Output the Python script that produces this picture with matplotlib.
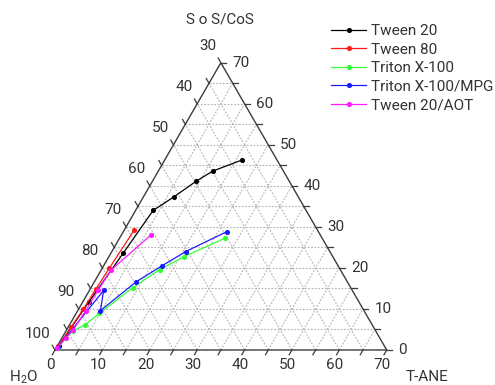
import numpy as np
import matplotlib
matplotlib.use("Agg")
import matplotlib.pyplot as plt

plt.rcParams['font.family'] = ['Roboto', 'DejaVu Sans']
plt.rcParams['mathtext.fontset'] = 'custom'
plt.rcParams['mathtext.rm'] = 'Roboto'

# Phase-boundary compositions (wt%): T-ANE and SoS/CoS, water is the balance
tween20_tane = [16.3, 11.5, 9.2, 6.5, 3.7, 2.6, 1.3, 0.3]
tween20_sos = [46.3, 43.6, 41.1, 37.4, 34.0, 23.6, 11.8, 1.0]

tween80_tane = [2.1, 1.5, 1.2, 1.0, 0.6, 0.2]
tween80_sos = [29.2, 19.9, 14.8, 9.9, 5.6, 1.0]

tritonx100_tane = [22.2, 15.8, 12.3, 8.8, 4.9, 3.3, 1.4, 0.3]
tritonx100_sos = [27.2, 22.7, 19.6, 15.2, 8.9, 6.2, 4.6, 0.6]

tritonmpg_tane = [21.8, 15.6, 12.3, 8.8, 4.8, 3.0, 0.3]
tritonmpg_sos = [28.8, 24.0, 20.5, 16.6, 9.6, 14.5, 0.8]

tween20aot_tane = [6.2, 2.1, 1.8, 1.7, 1.4, 0.8, 0.2]
tween20aot_sos = [28.0, 19.5, 14.6, 9.6, 4.9, 2.9, 0.6]

series_labels = ["Tween 20", "Tween 80", "Triton X-100",
                 "Triton X-100/MPG", "Tween 20/AOT"]
series_colors = ["#000000", "#ff1a1a", "#33ff33", "#1a1aff", "#ff1aff"]

# Axis ranges of the ternary window (H2O 30-100, the others 0-70)
bottom_ticks = list(range(0, 71, 5))
bottom_labels = list(range(0, 71, 10))      # T-ANE
right_labels = list(range(0, 71, 10))       # SoS/CoS
left_labels = list(range(30, 101, 10))      # H2O
SIDE = 70.0
H = np.sqrt(3) / 2


def cart(t, s):
    t = np.asarray(t, dtype=float)
    s = np.asarray(s, dtype=float)
    return t + s / 2.0, s * H


W, HGT = 495, 385
PX = 4.7386  # pixels per composition unit
fig = plt.figure(figsize=(W / 100, HGT / 100), dpi=100)
ax = fig.add_axes([0, 0, 1, 1])
ax.set_xlim(-55 / PX, (W - 55) / PX)
ax.set_ylim(-(HGT - 350) / PX, 350 / PX)
ax.axis('off')


def px(dx, dy):
    """Pixel offset -> data offset (dy positive = down on screen)."""
    return dx / PX, -dy / PX


# Dashed grid every 5 units
grid_kw = dict(color="#b4b4b4", lw=0.8, ls=(0, (1.6, 1.4)), zorder=1)
for k in range(5, 70, 5):
    x, y = cart([0, SIDE - k], [k, k])
    ax.plot(x, y, **grid_kw)
    x, y = cart([k, k], [0, SIDE - k])
    ax.plot(x, y, **grid_kw)
    x, y = cart([k, 0], [0, k])
    ax.plot(x, y, **grid_kw)

# Triangle frame
x, y = cart([0, SIDE, 0, 0], [0, 0, SIDE, 0])
ax.plot(x, y, color="#3c3c3c", lw=1.0, zorder=2, solid_joinstyle='miter')

# Ticks
L = 1.15
edge_kw = dict(color="#3c3c3c", lw=0.9, zorder=2)
for v in bottom_ticks:
    # bottom (T-ANE)
    x0, y0 = cart(v, 0)
    ax.plot([x0, x0 - 0.5 * L], [y0, y0 - H * L], **edge_kw)
    # right (SoS/CoS)
    x0, y0 = cart(SIDE - v, v)
    ax.plot([x0, x0 + L], [y0, y0], **edge_kw)
    # left (H2O)
    x0, y0 = cart(0, v)
    ax.plot([x0, x0 - 0.5 * L], [y0, y0 + H * L], **edge_kw)

fs = 11
tc = "#333333"
for v in bottom_labels:
    x0, y0 = cart(v, 0)
    dx, dy = px(-4.3, 15)
    ax.text(x0 + dx, y0 + dy, str(v), ha='center', va='center',
            fontsize=fs, color=tc)
for v in right_labels:
    x0, y0 = cart(SIDE - v, v)
    dx, dy = px(11.5, 0)
    ax.text(x0 + dx, y0 + dy, str(v), ha='left', va='center',
            fontsize=fs, color=tc)
for v in left_labels:
    x0, y0 = cart(0, 100 - v)
    dx, dy = px(-4.5, -16.5)
    ax.text(x0 + dx, y0 + dy, str(v), ha='right', va='center',
            fontsize=fs, color=tc)

# Axis titles
def at_px(pxx, pyy):
    return (pxx - 55) / PX, (350 - pyy) / PX

ax.text(*at_px(220, 20), "S o S/CoS", ha='center', va='center',
        fontsize=fs, color=tc)
ax.text(*at_px(24, 377), r"H$_\mathregular{2}$O", ha='center', va='center',
        fontsize=fs, color=tc)
ax.text(*at_px(427, 377), "T-ANE", ha='center', va='center',
        fontsize=fs, color=tc)

# Data series
all_series = [
    (tween20_tane, tween20_sos),
    (tween80_tane, tween80_sos),
    (tritonx100_tane, tritonx100_sos),
    (tritonmpg_tane, tritonmpg_sos),
    (tween20aot_tane, tween20aot_sos),
]
for (t, s), lab, col in zip(all_series, series_labels, series_colors):
    x, y = cart(t, s)
    ax.plot(x, y, color=col, lw=0.9, marker='o', markersize=3.7,
            markeredgewidth=0, label=lab, zorder=3)

ax.legend(loc='upper left', bbox_to_anchor=(331 / W, 1 - 24 / HGT),
          bbox_transform=fig.transFigure, frameon=False, borderpad=0,
          borderaxespad=0, handlelength=2.3, handletextpad=0.35,
          labelspacing=0.3, fontsize=fs, labelcolor=tc)

fig.savefig("out.png", dpi=100)
